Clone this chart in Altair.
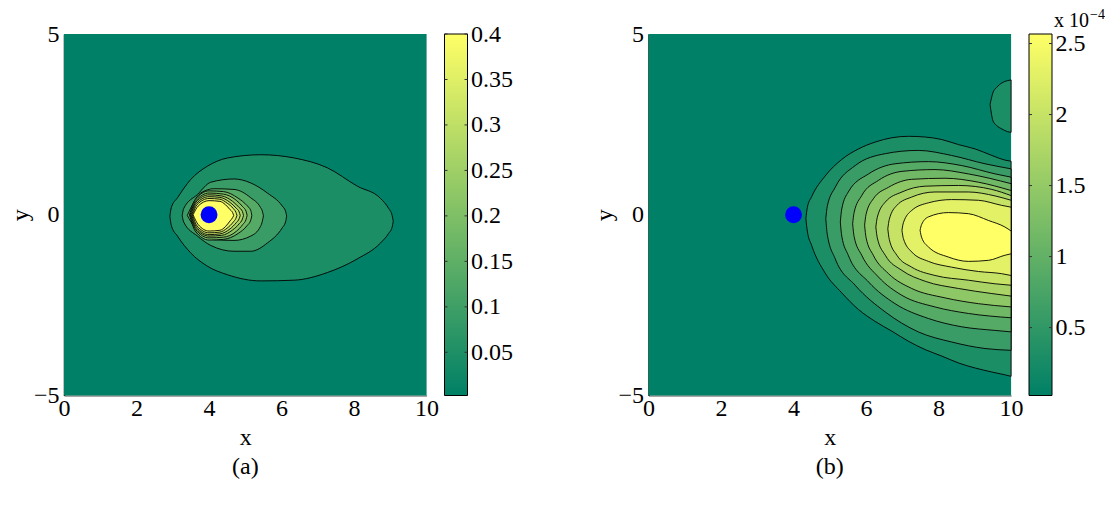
import altair as alt
import pandas as pd

FONT = "Liberation Serif"
C_LO, C_HI = "#008066", "#ffff66"
FS = 24

# ---------------- panel (a): filled contour bands (x, upper y, lower y) ----------------
a_xs = [
    [2.92, 2.96, 3.13, 3.49, 3.95, 4.51, 5.43, 6.35, 7.26, 8.09, 8.73, 8.95, 9.05, 9.08],
    [3.26, 3.30, 3.68, 4.05, 4.69, 5.15, 5.61, 6.02, 6.11, 6.14],
    [3.40, 3.77, 4.14, 4.69, 5.15, 5.42, 5.47, 5.50],
    [3.46, 3.62, 4.0, 4.4, 4.8, 5.05, 5.15, 5.18],
    [3.48, 3.63, 4.0, 4.4, 4.75, 4.93, 5.02, 5.05],
    [3.50, 3.64, 4.0, 4.35, 4.65, 4.83, 4.92, 4.95],
    [3.52, 3.65, 4.0, 4.3, 4.58, 4.75, 4.83, 4.86],
    [3.54, 3.67, 4.0, 4.3, 4.5, 4.67, 4.74, 4.77],
    [3.56, 3.70, 4.0, 4.3, 4.45, 4.58, 4.65, 4.68],
]
a_top = [
    [-0.04, 0.20, 0.47, 0.97, 1.34, 1.57, 1.66, 1.57, 1.30, 0.79, 0.45, 0.18, -0.02, -0.18],
    [-0.02, 0.17, 0.56, 0.90, 0.99, 0.88, 0.60, 0.24, 0.10, -0.04],
    [-0.02, 0.60, 0.72, 0.70, 0.47, 0.20, 0.10, -0.03],
    [0.0, 0.42, 0.66, 0.64, 0.46, 0.25, 0.12, -0.02],
    [0.0, 0.38, 0.60, 0.57, 0.40, 0.22, 0.10, -0.02],
    [0.0, 0.35, 0.55, 0.52, 0.37, 0.20, 0.09, -0.02],
    [0.0, 0.31, 0.50, 0.48, 0.34, 0.18, 0.08, -0.02],
    [0.0, 0.28, 0.45, 0.43, 0.32, 0.17, 0.07, -0.02],
    [0.0, 0.24, 0.39, 0.37, 0.28, 0.14, 0.06, -0.02],
]
a_bot = [
    [-0.04, -0.30, -0.59, -1.05, -1.42, -1.66, -1.83, -1.81, -1.60, -1.22, -0.78, -0.52, -0.34, -0.18],
    [-0.02, -0.20, -0.59, -0.85, -1.01, -1.01, -0.78, -0.36, -0.20, -0.04],
    [-0.02, -0.55, -0.69, -0.71, -0.59, -0.32, -0.18, -0.03],
    [0.0, -0.45, -0.70, -0.68, -0.52, -0.30, -0.15, -0.02],
    [0.0, -0.41, -0.64, -0.62, -0.46, -0.27, -0.13, -0.02],
    [0.0, -0.38, -0.59, -0.57, -0.42, -0.25, -0.12, -0.02],
    [0.0, -0.34, -0.55, -0.53, -0.39, -0.22, -0.11, -0.02],
    [0.0, -0.31, -0.50, -0.48, -0.37, -0.20, -0.10, -0.02],
    [0.0, -0.27, -0.45, -0.43, -0.33, -0.17, -0.08, -0.02],
]
a_levels = [0.044, 0.089, 0.133, 0.178, 0.222, 0.267, 0.311, 0.356, 0.4]
a_cbar = [0.0025, 0.4]
a_ticks = [0.05, 0.1, 0.15, 0.2, 0.25, 0.3, 0.35, 0.4]

# ---------------- panel (b) (values in units of 1e-4) ----------------
b_xs = [
    [4.34, 4.38, 4.5, 4.87, 5.33, 5.79, 6.25, 6.71, 7.17, 7.63, 8.09, 8.55, 9.01, 9.47, 9.84, 10.0],
    [4.89, 4.93, 5.15, 5.70, 6.53, 7.44, 8.36, 9.28, 10.0],
    [5.29, 5.33, 5.51, 6.07, 6.80, 7.72, 8.64, 9.56, 10.0],
    [5.63, 5.67, 5.88, 6.34, 6.99, 7.90, 8.82, 10.0],
    [5.96, 6.00, 6.20, 6.62, 7.26, 8.18, 9.10, 10.0],
    [6.27, 6.31, 6.53, 6.99, 7.63, 8.55, 9.47, 10.0],
    [6.60, 6.64, 6.85, 7.26, 7.90, 8.82, 9.56, 10.0],
    [6.99, 7.03, 7.26, 7.72, 8.36, 9.10, 9.74, 10.0],
    [7.49, 7.53, 7.72, 8.27, 8.82, 9.38, 9.83, 10.0],
    [9.42, 9.5, 9.6, 9.75, 9.9, 10.0],
]
b_top = [
    [-0.11, 0.20, 0.50, 1.07, 1.53, 1.82, 2.01, 2.13, 2.17, 2.15, 2.08, 1.94, 1.82, 1.64, 1.51, 1.48],
    [-0.11, 0.23, 0.76, 1.36, 1.69, 1.78, 1.64, 1.41, 1.27],
    [-0.20, 0.16, 0.63, 1.13, 1.41, 1.47, 1.36, 1.13, 1.04],
    [-0.25, 0.06, 0.53, 0.95, 1.20, 1.25, 1.13, 0.86],
    [-0.29, 0.01, 0.44, 0.76, 0.98, 1.01, 0.90, 0.67],
    [-0.34, -0.07, 0.35, 0.63, 0.79, 0.81, 0.70, 0.53],
    [-0.39, -0.13, 0.26, 0.49, 0.63, 0.63, 0.52, 0.40],
    [-0.43, -0.22, 0.12, 0.33, 0.42, 0.40, 0.26, 0.21],
    [-0.43, -0.275, -0.06, 0.06, 0.03, -0.16, -0.34, -0.45],
    [3.05, 3.38, 3.52, 3.65, 3.71, 3.73],
]
b_bot = [
    [-0.11, -0.45, -0.85, -1.61, -2.16, -2.62, -2.95, -3.22, -3.50, -3.73, -3.91, -4.10, -4.24, -4.35, -4.43, -4.47],
    [-0.11, -0.54, -1.22, -1.95, -2.69, -3.24, -3.52, -3.70, -3.75],
    [-0.20, -0.59, -1.12, -1.86, -2.46, -2.87, -3.10, -3.20, -3.24],
    [-0.25, -0.60, -1.12, -1.72, -2.23, -2.55, -2.73, -2.85],
    [-0.29, -0.63, -1.12, -1.63, -2.04, -2.30, -2.46, -2.55],
    [-0.34, -0.64, -1.12, -1.54, -1.84, -2.04, -2.18, -2.25],
    [-0.39, -0.68, -1.12, -1.45, -1.68, -1.81, -1.91, -1.95],
    [-0.43, -0.66, -1.03, -1.29, -1.45, -1.57, -1.63, -1.68],
    [-0.43, -0.62, -0.89, -1.17, -1.29, -1.26, -1.12, -1.08],
    [3.05, 2.60, 2.47, 2.37, 2.30, 2.28],
]
b_levels = [0.284, 0.569, 0.853, 1.138, 1.422, 1.707, 1.991, 2.276, 2.56, 0.284]
b_cbar = [0.022, 2.567]
b_ticks = [0.5, 1.0, 1.5, 2.0, 2.5]

# source point
dot_x = [4.0]
dot_y = [0.0]

PW, PH = 362.6, 361.5
CBW = 23
GAP = 17.5


def panel(xs, tops, bots, levels, cmax, caption):
    xsc = alt.Scale(domain=[0, 10], nice=False, zero=False)
    ysc = alt.Scale(domain=[-5, 5], nice=False, zero=False)
    csc = alt.Scale(domain=[0, cmax], range=[C_LO, C_HI], interpolate="rgb")
    xax = alt.Axis(values=[0, 2, 4, 6, 8, 10], title="x", domainColor="#8a8a8a",
                   domainWidth=1.5, labelPadding=1, titlePadding=5, labelFlush=False,
                   labelOverlap=False)
    yax = alt.Axis(values=[-5, 0, 5], title="y", domainColor="#111111",
                   domainWidth=1.5, labelPadding=5, titlePadding=1, labelFlush=False,
                   labelOverlap=False)
    bg = pd.DataFrame({"x0": [0.0], "x1": [10.0], "y0": [-5.0], "y1": [5.0], "lev": [0.0]})
    layers = [
        alt.Chart(bg).mark_rect().encode(
            x=alt.X("x0:Q", scale=xsc, axis=xax), x2="x1",
            y=alt.Y("y0:Q", scale=ysc, axis=yax), y2="y1",
            color=alt.Color("lev:Q", scale=csc, legend=None),
        )
    ]
    for k in range(len(xs)):
        df = pd.DataFrame({"x": xs[k], "top": tops[k], "bot": bots[k],
                           "lev": [levels[k]] * len(xs[k])})
        layers.append(
            alt.Chart(df).mark_area(stroke="black", strokeWidth=0.9,
                                    interpolate="monotone", opacity=1).encode(
                x=alt.X("x:Q", scale=xsc),
                y=alt.Y("top:Q", scale=ysc),
                y2="bot",
                color=alt.Color("lev:Q", scale=csc, legend=None),
            )
        )
    ddf = pd.DataFrame({"x": dot_x, "y": dot_y})
    layers.append(
        alt.Chart(ddf).mark_circle(size=285, color="#0000ff", opacity=1).encode(
            x=alt.X("x:Q", scale=xsc), y=alt.Y("y:Q", scale=ysc)
        )
    )
    return alt.layer(*layers).properties(
        width=PW, height=PH,
        title=alt.Title(caption, orient="bottom", font=FONT, fontSize=FS,
                        fontWeight="normal", color="black", offset=5, frame="group"),
    )


def colorbar(lims, ticks, extra_text=False):
    ysc = alt.Scale(domain=lims, nice=False, zero=False)
    grad = alt.LinearGradient(
        gradient="linear",
        stops=[alt.GradientStop(color=C_LO, offset=0), alt.GradientStop(color=C_HI, offset=1)],
        x1=0, x2=0, y1=1, y2=0,
    )
    bar = alt.Chart(pd.DataFrame({"lo": [lims[0]], "hi": [lims[1]]})).mark_rect(
        fill=grad, stroke="black", strokeWidth=1
    ).encode(
        y=alt.Y("lo:Q", scale=ysc,
                axis=alt.Axis(orient="right", values=ticks, format="~g", ticks=False,
                              domain=False, labelPadding=3, title=None,
                              labelFlush=False, labelOverlap=False)),
        y2="hi",
        x=alt.value(0), x2=alt.value(CBW),
    )
    tdf = pd.DataFrame({"v": ticks})
    tl = alt.Chart(tdf).mark_rule(color="#333333", strokeWidth=1).encode(
        y=alt.Y("v:Q", scale=ysc), x=alt.value(0), x2=alt.value(3))
    tr = alt.Chart(tdf).mark_rule(color="#333333", strokeWidth=1).encode(
        y=alt.Y("v:Q", scale=ysc), x=alt.value(CBW - 3), x2=alt.value(CBW))
    layers = [bar, tl, tr]
    if extra_text:
        layers.append(alt.Chart(pd.DataFrame({"t": ["x 10"]})).mark_text(
            align="left", baseline="alphabetic", font=FONT, fontSize=20, color="black"
        ).encode(x=alt.value(25), y=alt.value(-7), text="t:N"))
        layers.append(alt.Chart(pd.DataFrame({"t": ["\u22124"]})).mark_text(
            align="left", baseline="alphabetic", font=FONT, fontSize=14, color="black"
        ).encode(x=alt.value(61), y=alt.value(-15), text="t:N"))
    return alt.layer(*layers).properties(width=CBW, height=PH)


spacer = alt.Chart(pd.DataFrame({"a": [0]})).mark_point(opacity=0).encode(
    x=alt.value(0), y=alt.value(0)).properties(width=145.3, height=PH)

pa = panel(a_xs, a_top, a_bot, a_levels, 0.4, "(a)")
pb = panel(b_xs, b_top, b_bot, b_levels, 2.56, "(b)")
ca = colorbar(a_cbar, a_ticks)
cbb = colorbar(b_cbar, b_ticks, extra_text=True)

chart = alt.hconcat(pa, ca, spacer, pb, cbb, spacing=GAP, bounds="flush").resolve_scale(
    color="independent", x="independent", y="independent"
).properties(
    padding={"left": 0, "top": 0, "right": 0, "bottom": 0}, background="white"
).configure_view(
    stroke=None
).configure_axis(
    grid=False, ticks=False, labelFont=FONT, labelFontSize=FS, labelColor="black",
    titleFont=FONT, titleFontSize=FS, titleFontWeight="normal", titleColor="black",
)

chart.save("out.html", embed_options={"renderer": "svg", "actions": False})
